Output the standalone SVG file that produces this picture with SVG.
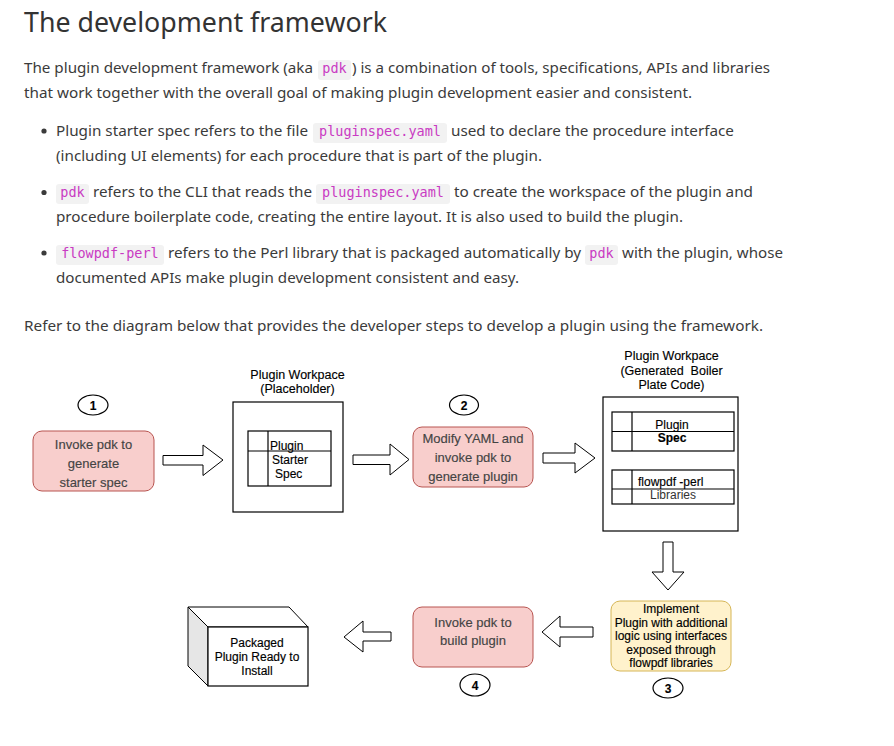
<svg xmlns="http://www.w3.org/2000/svg" width="894" height="746" viewBox="0 0 894 746">
<style>
.p{font-family:"Noto Sans","Open Sans",sans-serif;font-size:15.2px;fill:#3b3b3b}
.h{font-family:"Noto Sans","Open Sans",sans-serif;font-size:27px;fill:#333}
.cbg{fill:#f2f2f2}
.c{font-family:"DejaVu Sans Mono","Liberation Mono",monospace;font-size:13.5px;fill:#c93bc3;text-anchor:middle}
.d{font-family:"Liberation Sans",Arial,sans-serif;font-size:12px;fill:#000;text-anchor:middle;stroke:#000;stroke-width:0.15}
.t{font-size:12.5px}
.g{fill:#444;stroke:#444;font-size:13px}
.s{text-anchor:start}
.b{font-weight:bold}
.pink{fill:#f8cecc;stroke:#b85450;stroke-width:1}
.yel{fill:#fff2cc;stroke:#d6b656;stroke-width:1}
.ln{fill:#fff;stroke:#000;stroke-width:1.2}
.nl{fill:none;stroke:#000;stroke-width:1.2}
.arr{fill:#fff;stroke:#000;stroke-width:1}
</style>
<rect width="894" height="746" fill="#fff"/>
<g id="prose">
<text class="h" x="24" y="32" textLength="363" lengthAdjust="spacingAndGlyphs">The development framework</text>
<text class="p" x="24" y="73" textLength="289" lengthAdjust="spacingAndGlyphs">The plugin development framework (aka</text>
<rect class="cbg" x="318" y="60" width="33" height="20" rx="3"/>
<text class="c" x="334.5" y="73">pdk</text>
<text class="p" x="352" y="73" textLength="418" lengthAdjust="spacingAndGlyphs">) is a combination of tools, specifications, APIs and libraries</text>
<text class="p" x="24" y="98" textLength="668" lengthAdjust="spacingAndGlyphs">that work together with the overall goal of making plugin development easier and consistent.</text>
<circle cx="44" cy="131" r="2.6" fill="#3b3b3b"/>
<text class="p" x="56" y="136" textLength="252" lengthAdjust="spacingAndGlyphs">Plugin starter spec refers to the file</text>
<rect class="cbg" x="313" y="123" width="134" height="20" rx="3"/>
<text class="c" x="380" y="136">pluginspec.yaml</text>
<text class="p" x="451" y="136" textLength="283" lengthAdjust="spacingAndGlyphs">used to declare the procedure interface</text>
<text class="p" x="56" y="161" textLength="486" lengthAdjust="spacingAndGlyphs">(including UI elements) for each procedure that is part of the plugin.</text>
<circle cx="44" cy="192.5" r="2.6" fill="#3b3b3b"/>
<rect class="cbg" x="56" y="184" width="33" height="20" rx="3"/>
<text class="c" x="72.5" y="197">pdk</text>
<text class="p" x="93" y="197" textLength="219" lengthAdjust="spacingAndGlyphs">refers to the CLI that reads the</text>
<rect class="cbg" x="316" y="184" width="134" height="20" rx="3"/>
<text class="c" x="383" y="197">pluginspec.yaml</text>
<text class="p" x="454" y="197" textLength="299" lengthAdjust="spacingAndGlyphs">to create the workspace of the plugin and</text>
<text class="p" x="56" y="222" textLength="627" lengthAdjust="spacingAndGlyphs">procedure boilerplate code, creating the entire layout. It is also used to build the plugin.</text>
<circle cx="44" cy="253" r="2.6" fill="#3b3b3b"/>
<rect class="cbg" x="56" y="245" width="108" height="20" rx="3"/>
<text class="c" x="110" y="258">flowpdf-perl</text>
<text class="p" x="168" y="258" textLength="413" lengthAdjust="spacingAndGlyphs">refers to the Perl library that is packaged automatically by</text>
<rect class="cbg" x="585" y="245" width="33" height="20" rx="3"/>
<text class="c" x="601.5" y="258">pdk</text>
<text class="p" x="622" y="258" textLength="161" lengthAdjust="spacingAndGlyphs">with the plugin, whose</text>
<text class="p" x="56" y="283" textLength="463" lengthAdjust="spacingAndGlyphs">documented APIs make plugin development consistent and easy.</text>
<text class="p" x="24" y="331" textLength="739" lengthAdjust="spacingAndGlyphs">Refer to the diagram below that provides the developer steps to develop a plugin using the framework.</text>
</g>
<g id="connectors">
<polygon class="arr" points="163,455.5 203,455.5 203,445 223,460 203,475.5 203,465 163,465"/>
<polygon class="arr" points="353,455 390,455 390,444 409,459.5 390,475 390,464.5 353,464.5"/>
<polygon class="arr" points="543,453 575,453 575,443 595,458 575,473 575,463 543,463"/>
<polygon class="arr" points="663,542 673,542 673,572 684,572 668,590 652,572 663,572"/>
<polygon class="arr" points="593,627 560,627 560,616 542,632 560,647 560,637 593,637"/>
<polygon class="arr" points="391,632 363,632 363,621 344,637 363,652 363,641 391,641"/>
</g>
<g id="step1-label">
<ellipse class="ln" cx="93" cy="405" rx="15" ry="10"/>
<text class="d b" x="93" y="409.5" font-size="11">1</text>
</g>
<g id="invoke-starter">
<rect class="pink" x="33" y="431" width="121" height="60" rx="9"/>
<text class="d g" x="93.5" y="449">Invoke pdk to</text>
<text class="d g" x="93.5" y="468">generate</text>
<text class="d g" x="93.5" y="487">starter spec</text>
</g>
<g id="workspace-placeholder">
<text class="d t" x="297.5" y="379">Plugin Workpace</text>
<text class="d t" x="297.5" y="393">(Placeholder)</text>
<rect class="ln" x="233" y="402" width="110" height="110"/>
<rect class="ln" x="248" y="431" width="83" height="55"/>
<line class="nl" x1="268" y1="431" x2="268" y2="486"/>
<line class="nl" x1="248" y1="451" x2="331" y2="451"/>
<text class="d s" x="270" y="450">Plugin</text>
<text class="d s" x="272" y="464">Starter</text>
<text class="d s" x="275" y="478">Spec</text>
</g>
<g id="step2-label">
<ellipse class="ln" cx="464" cy="405" rx="14.5" ry="10"/>
<text class="d b" x="464" y="409.5" font-size="11">2</text>
</g>
<g id="modify-yaml">
<rect class="pink" x="413" y="427" width="120" height="60" rx="9"/>
<text class="d g" x="473" y="443">Modify YAML and</text>
<text class="d g" x="473" y="462">invoke pdk to</text>
<text class="d g" x="473" y="481">generate plugin</text>
</g>
<g id="workspace-generated">
<text class="d t" x="671.5" y="360">Plugin Workpace</text>
<text class="d t" x="671.5" y="374.5" xml:space="preserve">(Generated  Boiler</text>
<text class="d t" x="671.5" y="389">Plate Code)</text>
<rect class="ln" x="603" y="397" width="135" height="134"/>
<rect class="ln" x="612" y="412" width="122" height="39"/>
<line class="nl" x1="632" y1="412" x2="632" y2="451"/>
<line class="nl" x1="612" y1="431.5" x2="734" y2="431.5"/>
<text class="d" x="672" y="429">Plugin</text>
<text class="d b" x="672" y="442" font-size="11">Spec</text>
<rect class="ln" x="612" y="470" width="122" height="34"/>
<line class="nl" x1="632" y1="470" x2="632" y2="504"/>
<line class="nl" x1="612" y1="489" x2="734" y2="489"/>
<text class="d s" x="638" y="486">flowpdf -perl</text>
<text class="d" x="673" y="499" style="fill:#333;stroke:none" font-size="11.5">Libraries</text>
</g>
<g id="implement">
<rect class="yel" x="611" y="601" width="120" height="70" rx="9"/>
<text class="d" x="671" y="613">Implement</text>
<text class="d" x="671" y="626.5">Plugin with additional</text>
<text class="d" x="671" y="640">logic using interfaces</text>
<text class="d" x="671" y="653.5">exposed through</text>
<text class="d" x="671" y="667">flowpdf libraries</text>
</g>
<g id="step3-label">
<ellipse class="ln" cx="668" cy="688" rx="15" ry="10"/>
<text class="d b" x="668" y="692.5" font-size="11">3</text>
</g>
<g id="build-plugin">
<rect class="pink" x="413" y="607" width="120" height="60" rx="9"/>
<text class="d g" x="473" y="627">Invoke pdk to</text>
<text class="d g" x="473" y="645">build plugin</text>
</g>
<g id="step4-label">
<ellipse class="ln" cx="475" cy="685" rx="15" ry="11"/>
<text class="d b" x="475" y="689.5" font-size="11">4</text>
</g>
<g id="packaged-plugin">
<polygon points="188,607 208,627 208,686 188,666" fill="#e6e6e6" stroke="#000" stroke-width="1"/>
<polygon points="188,607 289,607 308,627 208,627" fill="#fff" stroke="#000" stroke-width="1"/>
<rect x="208" y="627" width="100" height="59" fill="#fff" stroke="#000" stroke-width="1.2"/>
<text class="d" x="257" y="647">Packaged</text>
<text class="d" x="257" y="661">Plugin Ready to</text>
<text class="d" x="257" y="675">Install</text>
</g>
</svg>
